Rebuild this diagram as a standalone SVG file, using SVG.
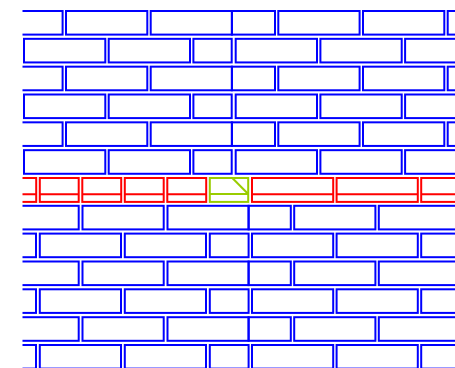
<svg xmlns="http://www.w3.org/2000/svg" width="455" height="368" viewBox="0 0 455 368">
<defs>
<style>
.b{fill:none;stroke:#0000ff;stroke-width:2}
.r{fill:none;stroke:#ff0000;stroke-width:2}
.g{fill:none;stroke:#99cc00;stroke-width:2}
</style>
<clipPath id="clip"><rect x="22.5" y="0" width="433" height="368"/></clipPath>
</defs>
<rect x="0" y="0" width="455" height="368" fill="#ffffff"/>
<g clip-path="url(#clip)">
<g id="row0" class="b" transform="translate(0,11)">
<rect x="-18.7" y="0" width="81.3" height="23.6"/><rect x="66" y="0" width="81.3" height="23.6"/><rect x="150.7" y="0" width="81.2" height="23.6"/><rect x="231.9" y="0" width="43.1" height="23.6"/><rect x="278.3" y="0" width="81.3" height="23.6"/><rect x="363" y="0" width="81.3" height="23.6"/><rect x="447.7" y="0" width="81.3" height="23.6"/>
</g>
<g id="row1" class="b" transform="translate(0,38.83)">
<rect x="24" y="0" width="81.3" height="23.6"/><rect x="108.7" y="0" width="81.3" height="23.6"/><rect x="193.4" y="0" width="38.3" height="23.6"/><rect x="235.7" y="0" width="81.3" height="23.6"/><rect x="320.4" y="0" width="81.3" height="23.6"/><rect x="405.1" y="0" width="81.3" height="23.6"/>
</g>
<g id="row2" class="b" transform="translate(0,66.67)">
<rect x="-18.7" y="0" width="81.3" height="23.6"/><rect x="66" y="0" width="81.3" height="23.6"/><rect x="150.7" y="0" width="81.2" height="23.6"/><rect x="231.9" y="0" width="43.1" height="23.6"/><rect x="278.3" y="0" width="81.3" height="23.6"/><rect x="363" y="0" width="81.3" height="23.6"/><rect x="447.7" y="0" width="81.3" height="23.6"/>
</g>
<g id="row3" class="b" transform="translate(0,94.5)">
<rect x="24" y="0" width="81.3" height="23.6"/><rect x="108.7" y="0" width="81.3" height="23.6"/><rect x="193.4" y="0" width="38.3" height="23.6"/><rect x="235.7" y="0" width="81.3" height="23.6"/><rect x="320.4" y="0" width="81.3" height="23.6"/><rect x="405.1" y="0" width="81.3" height="23.6"/>
</g>
<g id="row4" class="b" transform="translate(0,122.33)">
<rect x="-18.7" y="0" width="81.3" height="23.6"/><rect x="66" y="0" width="81.3" height="23.6"/><rect x="150.7" y="0" width="81.2" height="23.6"/><rect x="231.9" y="0" width="43.1" height="23.6"/><rect x="278.3" y="0" width="81.3" height="23.6"/><rect x="363" y="0" width="81.3" height="23.6"/><rect x="447.7" y="0" width="81.3" height="23.6"/>
</g>
<g id="row5" class="b" transform="translate(0,150.17)">
<rect x="24" y="0" width="81.3" height="23.6"/><rect x="108.7" y="0" width="81.3" height="23.6"/><rect x="193.4" y="0" width="38.3" height="23.6"/><rect x="235.7" y="0" width="81.3" height="23.6"/><rect x="320.4" y="0" width="81.3" height="23.6"/><rect x="405.1" y="0" width="81.3" height="23.6"/>
</g>
<g id="row6-red" class="r" transform="translate(0,178)">
<rect x="-2.7" y="0" width="38.9" height="23.9"/><line x1="-2.7" y1="16.2" x2="36.2" y2="16.2"/>
<rect x="39.8" y="0" width="38.9" height="23.9"/><line x1="39.8" y1="16.2" x2="78.7" y2="16.2"/>
<rect x="82.3" y="0" width="38.9" height="23.9"/><line x1="82.3" y1="16.2" x2="121.2" y2="16.2"/>
<rect x="124.8" y="0" width="38.9" height="23.9"/><line x1="124.8" y1="16.2" x2="163.7" y2="16.2"/>
<rect x="167.3" y="0" width="38.9" height="23.9"/><line x1="167.3" y1="16.2" x2="206.2" y2="16.2"/>
<rect x="252" y="0" width="81.2" height="23.9"/><line x1="252" y1="16.2" x2="333.2" y2="16.2"/>
<rect x="336.6" y="0" width="81.2" height="23.9"/><line x1="336.6" y1="16.2" x2="417.8" y2="16.2"/>
<rect x="421.2" y="0" width="81.2" height="23.9"/><line x1="421.2" y1="16.2" x2="502.4" y2="16.2"/>
</g>
<g id="green-brick" class="g" transform="translate(0,178)">
<rect x="209.8" y="0" width="38.4" height="23.9"/><line x1="209.8" y1="16" x2="248.2" y2="16"/><line x1="232.3" y1="0" x2="248.2" y2="16"/>
</g>
<g id="row7" class="b" transform="translate(0,205.8)">
<rect x="-2.5" y="0" width="81.2" height="23.6"/><rect x="82.5" y="0" width="81.2" height="23.6"/><rect x="167.5" y="0" width="81.1" height="23.6"/><rect x="248.6" y="0" width="42.2" height="23.6"/><rect x="294.2" y="0" width="81.2" height="23.6"/><rect x="378.8" y="0" width="81.2" height="23.6"/>
</g>
<g id="row8" class="b" transform="translate(0,233.6)">
<rect x="-45.2" y="0" width="81.2" height="23.6"/><rect x="39.8" y="0" width="81.2" height="23.6"/><rect x="124.8" y="0" width="81.2" height="23.6"/><rect x="209.8" y="0" width="38.8" height="23.6"/><rect x="252" y="0" width="81.2" height="23.6"/><rect x="336.6" y="0" width="81.2" height="23.6"/><rect x="421.2" y="0" width="81.2" height="23.6"/>
</g>
<g id="row9" class="b" transform="translate(0,261.5)">
<rect x="-2.5" y="0" width="81.2" height="23.6"/><rect x="82.5" y="0" width="81.2" height="23.6"/><rect x="167.5" y="0" width="81.1" height="23.6"/><rect x="248.6" y="0" width="42.2" height="23.6"/><rect x="294.2" y="0" width="81.2" height="23.6"/><rect x="378.8" y="0" width="81.2" height="23.6"/>
</g>
<g id="row10" class="b" transform="translate(0,289.3)">
<rect x="-45.2" y="0" width="81.2" height="23.6"/><rect x="39.8" y="0" width="81.2" height="23.6"/><rect x="124.8" y="0" width="81.2" height="23.6"/><rect x="209.8" y="0" width="38.8" height="23.6"/><rect x="252" y="0" width="81.2" height="23.6"/><rect x="336.6" y="0" width="81.2" height="23.6"/><rect x="421.2" y="0" width="81.2" height="23.6"/>
</g>
<g id="row11" class="b" transform="translate(0,317.2)">
<rect x="-2.5" y="0" width="81.2" height="23.6"/><rect x="82.5" y="0" width="81.2" height="23.6"/><rect x="167.5" y="0" width="81.1" height="23.6"/><rect x="248.6" y="0" width="42.2" height="23.6"/><rect x="294.2" y="0" width="81.2" height="23.6"/><rect x="378.8" y="0" width="81.2" height="23.6"/>
</g>
<g id="row12" class="b" transform="translate(0,345)">
<rect x="-45.2" y="0" width="81.2" height="23.6"/><rect x="39.8" y="0" width="81.2" height="23.6"/><rect x="124.8" y="0" width="81.2" height="23.6"/><rect x="209.8" y="0" width="38.8" height="23.6"/><rect x="252" y="0" width="81.2" height="23.6"/><rect x="336.6" y="0" width="81.2" height="23.6"/><rect x="421.2" y="0" width="81.2" height="23.6"/>
</g>
</g>
</svg>
